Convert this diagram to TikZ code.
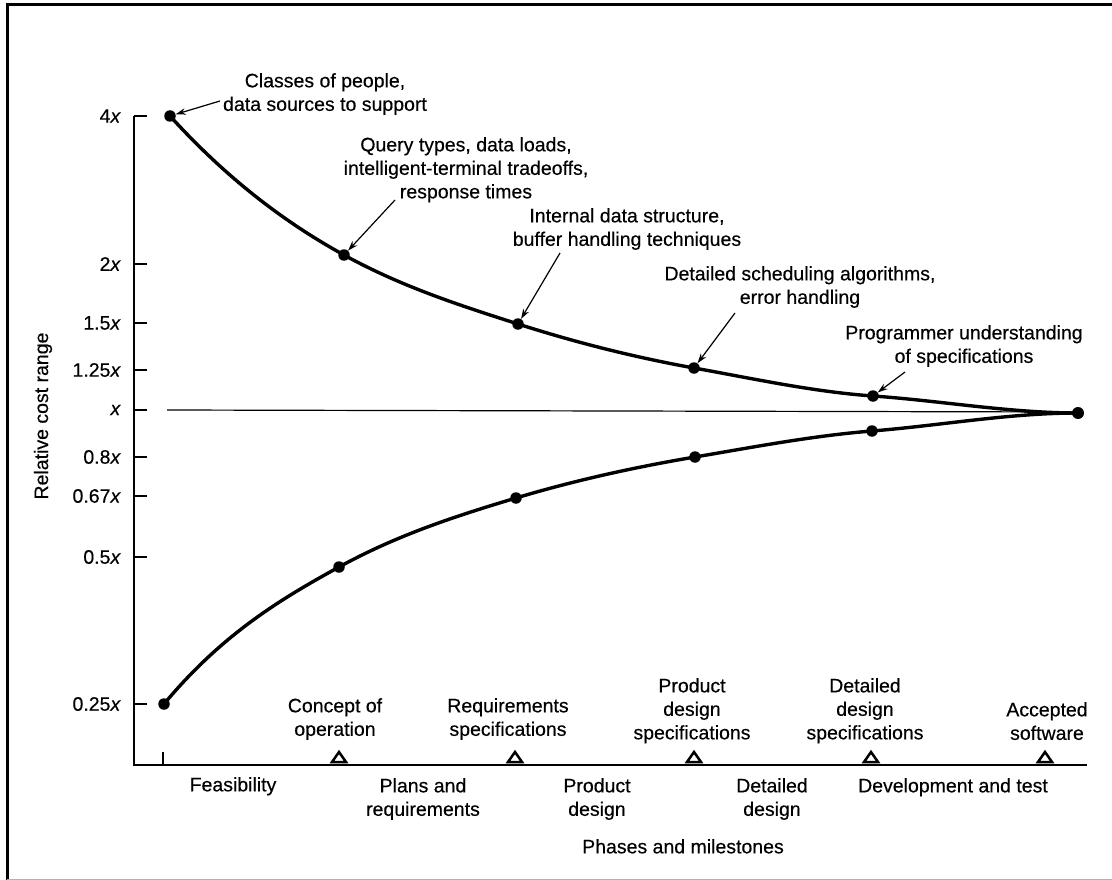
\documentclass[tikz,border=0pt]{standalone}
\usepackage{fontspec}
\setmainfont{Liberation Sans}[UprightFeatures={FakeBold=0.35},ItalicFeatures={FakeBold=0.35}]
\usetikzlibrary{arrows.meta}
\begin{document}
\begin{tikzpicture}[x=1pt,y=-1pt,
  lbl/.style={font=\fontsize{19.5}{23.5}\selectfont, inner sep=0pt, align=center},
  ylab/.style={font=\fontsize{19.5}{23.5}\selectfont, inner sep=0pt, anchor=east},
  dot/.style={circle, fill=black, inner sep=0pt, minimum size=11.5pt},
  curve/.style={line width=3.4pt},
  axisline/.style={line width=2.3pt},
  pointer/.style={line width=1.2pt, -{Stealth[length=10pt,width=6.5pt]}},
  tri/.style={line width=2.5pt, line join=miter},
  frame/.style={line width=3pt},
]
\useasboundingbox (0,0) rectangle (1112,880);
% frame
\draw[frame] (7,880) -- (7,5) -- (1112,5);
\draw[gray!60, line width=1pt] (7,879) -- (1112,879);

% axes
\coordinate (O) at (134,765);
\coordinate (Ytop) at (134,116);
\coordinate (Xend) at (1087,765);
\draw[axisline] (Ytop) -- (O) -- (Xend);
\draw[axisline] (163,765) -- (163,752);

% y ticks and labels
\foreach \yy/\tx in {116/4, 264/2, 323/1.5, 370/1.25, 457/0.8, 496/0.67, 557/0.5, 704/0.25}{
  \draw[axisline] (134,\yy) -- (147,\yy);
  \node[ylab] at (121,\yy) {\tx\textit{x}};
}
\draw[axisline] (134,410) -- (147,410);
\node[ylab] at (121,410) {\textit{x}};
\node[lbl, rotate=90] (ytitle) at (43,416) {Relative cost range};

% reference line x
\coordinate (R0) at (167,410);
\coordinate (E) at (1078,413);
\draw[line width=1.2pt] (R0) -- (1070,412);

% curve points
\coordinate (U1) at (170,116);
\coordinate (U2) at (344,255);
\coordinate (U3) at (518,324);
\coordinate (U4) at (694,368);
\coordinate (U5) at (873,396);
\coordinate (L1) at (164,704);
\coordinate (L2) at (339,567);
\coordinate (L3) at (516,498);
\coordinate (L4) at (695,457);
\coordinate (L5) at (872,431);

\draw[curve] (U1) .. controls (228,179.8) and (286,223.1) .. (U2)
  .. controls (402,286.9) and (460,305.4) .. (U3)
  .. controls (576.7,342.8) and (635.3,357.4) .. (U4)
  .. controls (753.7,378.7) and (813.3,391.8) .. (U5)
  .. controls (941.3,400.8) and (1009.7,413) .. (E);
\draw[curve] (L1) .. controls (222.3,634) and (280.7,599.1) .. (L2)
  .. controls (398,534.6) and (457,515.7) .. (L3)
  .. controls (575.7,480.1) and (635.3,467.1) .. (L4)
  .. controls (754,447) and (813,435.7) .. (L5)
  .. controls (940.7,425.5) and (1009.3,413) .. (E);

\foreach \p in {U1,U2,U3,U4,U5,L1,L2,L3,L4,L5}{
  \node[dot] (d\p) at (\p) {};
}
\node[dot, minimum size=12pt] (dE) at (E) {};

% annotations
\node[lbl, anchor=north] (t1) at (325,73) {Classes of people,\\data sources to support};
\node[lbl, anchor=north] (t2) at (466,137) {Query types, data loads,\\intelligent-terminal tradeoffs,\\response times};
\node[lbl, anchor=north] (t3) at (627,208) {Internal data structure,\\buffer handling techniques};
\node[lbl, anchor=north] (t4) at (800,266) {Detailed scheduling algorithms,\\error handling};
\node[lbl, anchor=north] (t5) at (964,325) {Programmer understanding\\of specifications};

\coordinate (a1) at (220,101);
\coordinate (a2) at (395,200);
\coordinate (a3) at (560,253);
\coordinate (a4) at (735,313);
\coordinate (a5) at (905,372);
\draw[pointer] (a1) -- (dU1);
\draw[pointer] (a2) -- (dU2);
\draw[pointer] (a3) -- (dU3);
\draw[pointer] (a4) -- (dU4);
\draw[pointer] (a5) -- (dU5);

% milestones
\foreach \n/\mx in {m1/339, m2/515, m3/694, m4/871, m5/1045}{
  \coordinate (\n) at (\mx,762);
  \draw[tri] (\n) ++(-7,0) -- ++(7,-10) -- ++(7,10) -- cycle;
}
\node[lbl, anchor=north] (ms1) at (335,698) {Concept of\\operation};
\node[lbl, anchor=north] (ms2) at (508,698) {Requirements\\specifications};
\node[lbl, anchor=north] (ms3) at (692,678) {Product\\design\\specifications};
\node[lbl, anchor=north] (ms4) at (865,678) {Detailed\\design\\specifications};
\node[lbl, anchor=north] (ms5) at (1047,702) {Accepted\\software};

% phases
\node[lbl, anchor=north] (p1) at (233,777) {Feasibility};
\node[lbl, anchor=north] (p2) at (423,778) {Plans and\\requirements};
\node[lbl, anchor=north] (p3) at (597,778) {Product\\design};
\node[lbl, anchor=north] (p4) at (772,778) {Detailed\\design};
\node[lbl, anchor=north] (p5) at (953,778) {Development and test};
\node[lbl, anchor=north] (xtitle) at (683,839) {Phases and milestones};
\end{tikzpicture}
\end{document}
